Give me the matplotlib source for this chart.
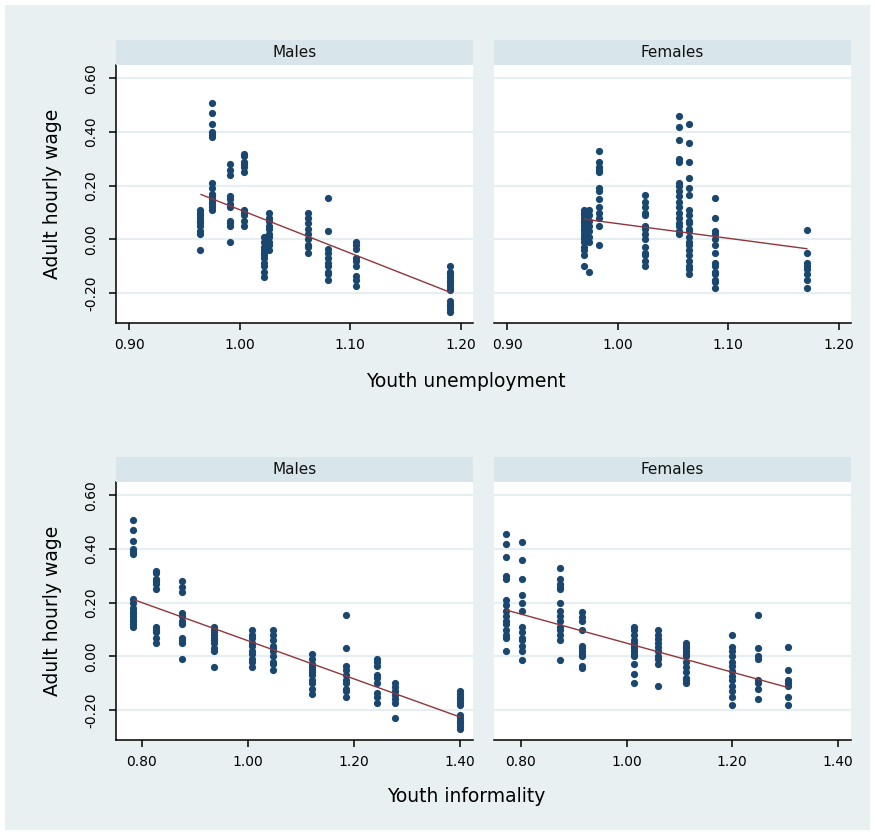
import numpy as np
import matplotlib.pyplot as plt
from matplotlib.patches import Rectangle

# adult hourly wage (y) against youth labour indicators, one column of points per x value

# Males, youth unemployment
m_unemp_x = [0.964, 0.975, 0.991, 1.004, 1.022, 1.026, 1.062, 1.080, 1.105, 1.190]
m_unemp_y = [
    [0.11, 0.10, 0.09, 0.08, 0.07, 0.06, 0.05, 0.03, 0.02, -0.04],
    [0.51, 0.47, 0.43, 0.40, 0.39, 0.38, 0.21, 0.19, 0.17, 0.16, 0.15, 0.14, 0.13, 0.12, 0.11],
    [0.28, 0.26, 0.24, 0.16, 0.15, 0.13, 0.12, 0.07, 0.06, 0.05, -0.01],
    [0.32, 0.31, 0.29, 0.28, 0.27, 0.25, 0.11, 0.10, 0.09, 0.07, 0.05],
    [0.01, -0.01, -0.03, -0.04, -0.05, -0.06, -0.07, -0.09, -0.10, -0.12, -0.14],
    [0.10, 0.08, 0.07, 0.05, 0.04, 0.02, 0.01, -0.01, -0.02, -0.04],
    [0.10, 0.08, 0.06, 0.04, 0.02, 0.00, -0.02, -0.03, -0.05],
    [0.155, 0.03, -0.035, -0.05, -0.07, -0.09, -0.10, -0.12, -0.13, -0.15],
    [-0.01, -0.02, -0.035, -0.07, -0.08, -0.10, -0.135, -0.15, -0.175],
    [-0.10, -0.12, -0.13, -0.14, -0.15, -0.16, -0.17, -0.18, -0.19, -0.23, -0.24, -0.25, -0.26, -0.27],
]
m_unemp_fit_x = [0.965, 1.19]
m_unemp_fit_y = [0.167, -0.197]

# Females, youth unemployment
f_unemp_x = [0.969, 0.974, 0.983, 1.025, 1.055, 1.064, 1.088, 1.171]
f_unemp_y = [
    [0.11, 0.10, 0.09, 0.08, 0.07, 0.06, 0.05, 0.04, 0.03, 0.02, 0.01, 0.00, -0.01, -0.03, -0.04, -0.06, -0.10],
    [0.11, 0.09, 0.07, 0.05, 0.03, 0.01, -0.01, -0.12],
    [0.33, 0.29, 0.27, 0.26, 0.25, 0.19, 0.18, 0.15, 0.12, 0.10, 0.08, 0.05, -0.02],
    [0.165, 0.14, 0.12, 0.10, 0.09, 0.05, 0.04, 0.02, 0.00, -0.03, -0.05, -0.06, -0.08, -0.10],
    [0.46, 0.42, 0.37, 0.30, 0.29, 0.21, 0.20, 0.18, 0.16, 0.14, 0.12, 0.10, 0.08, 0.06, 0.05, 0.03, 0.02],
    [0.43, 0.36, 0.29, 0.23, 0.19, 0.165, 0.11, 0.09, 0.07, 0.06, 0.04, 0.03, 0.01, -0.01, -0.02,
     -0.04, -0.06, -0.08, -0.10, -0.11, -0.13],
    [0.155, 0.08, 0.03, 0.02, 0.00, -0.02, -0.05, -0.09, -0.10, -0.12, -0.13, -0.15, -0.16, -0.18],
    [0.035, -0.05, -0.09, -0.10, -0.11, -0.13, -0.15, -0.18],
]
f_unemp_fit_x = [0.970, 1.171]
f_unemp_fit_y = [0.075, -0.035]

# Males, youth informality
m_inf_x = [0.784, 0.827, 0.875, 0.936, 1.008, 1.048, 1.121, 1.186, 1.243, 1.277, 1.400]
m_inf_y = [
    [0.51, 0.47, 0.43, 0.40, 0.39, 0.38, 0.215, 0.20, 0.18, 0.17, 0.16, 0.15, 0.14, 0.13, 0.12, 0.11],
    [0.32, 0.31, 0.29, 0.28, 0.27, 0.25, 0.11, 0.10, 0.09, 0.07, 0.05],
    [0.28, 0.26, 0.24, 0.16, 0.15, 0.13, 0.12, 0.07, 0.06, 0.05, -0.01],
    [0.11, 0.10, 0.09, 0.08, 0.07, 0.06, 0.05, 0.03, 0.02, -0.04],
    [0.10, 0.08, 0.07, 0.05, 0.04, 0.02, 0.01, -0.01, -0.02, -0.04],
    [0.10, 0.08, 0.06, 0.04, 0.03, 0.02, 0.00, -0.02, -0.03, -0.05],
    [0.01, -0.01, -0.03, -0.04, -0.05, -0.06, -0.07, -0.09, -0.10, -0.12, -0.14],
    [0.155, 0.03, -0.035, -0.05, -0.07, -0.09, -0.10, -0.12, -0.13, -0.15],
    [-0.01, -0.02, -0.035, -0.07, -0.08, -0.10, -0.135, -0.15, -0.175],
    [-0.10, -0.115, -0.13, -0.145, -0.16, -0.175, -0.23],
    [-0.13, -0.14, -0.15, -0.16, -0.17, -0.18, -0.22, -0.23, -0.24, -0.25, -0.26, -0.27],
]
m_inf_fit_x = [0.785, 1.40]
m_inf_fit_y = [0.211, -0.226]

# Females, youth informality
f_inf_x = [0.772, 0.802, 0.874, 0.916, 1.014, 1.059, 1.112, 1.200, 1.248, 1.305]
f_inf_y = [
    [0.455, 0.42, 0.37, 0.30, 0.29, 0.21, 0.19, 0.17, 0.15, 0.13, 0.12, 0.10, 0.08, 0.07, 0.02],
    [0.425, 0.36, 0.29, 0.23, 0.20, 0.17, 0.11, 0.09, 0.07, 0.06, 0.04, 0.02, -0.015],
    [0.33, 0.29, 0.27, 0.26, 0.25, 0.20, 0.17, 0.15, 0.13, 0.11, 0.10, 0.08, 0.06, -0.015],
    [0.165, 0.145, 0.13, 0.10, 0.04, 0.03, 0.02, 0.01, 0.00, -0.035, -0.045],
    [0.11, 0.10, 0.08, 0.06, 0.05, 0.04, 0.03, 0.02, 0.01, 0.00, -0.03, -0.065, -0.10],
    [0.10, 0.08, 0.065, 0.05, 0.035, 0.02, 0.00, -0.01, -0.03, -0.11],
    [0.05, 0.04, 0.03, 0.02, 0.01, 0.00, -0.02, -0.04, -0.06, -0.08, -0.09, -0.10],
    [0.08, 0.035, 0.02, 0.00, -0.02, -0.035, -0.055, -0.075, -0.09, -0.11, -0.13, -0.15, -0.18],
    [0.155, 0.03, 0.00, -0.01, -0.09, -0.10, -0.12, -0.16],
    [0.035, -0.05, -0.09, -0.10, -0.11, -0.15, -0.18],
]
f_inf_fit_x = [0.773, 1.307]
f_inf_fit_y = [0.172, -0.117]

y_ticks = [-0.2, 0.0, 0.2, 0.4, 0.6]
unemp_ticks = [0.9, 1.0, 1.1, 1.2]
inf_ticks = [0.8, 1.0, 1.2, 1.4]

BG = '#e8f0f2'
STRIP = '#d8e5ea'
GRID = '#e6eef1'
NAVY = '#1a476f'
MAROON = '#90353b'

W, H = 875, 835
fig = plt.figure(figsize=(W / 100, H / 100), dpi=100, facecolor='white')
fig.patches.append(Rectangle((5 / W, 5 / H), 865 / W, 825 / H, transform=fig.transFigure,
                             facecolor=BG, edgecolor='none', zorder=-10))


def panel(left, top, xs, ys, fit_x, fit_y, xticks, xlim, title, first):
    ax = fig.add_axes([left / W, 1 - (top + 258) / H, 357 / W, 258 / H])
    strip = fig.add_axes([left / W, 1 - top / H, 357 / W, 25 / H])
    strip.set_facecolor(STRIP)
    strip.set_xticks([])
    strip.set_yticks([])
    for s in strip.spines.values():
        s.set_visible(False)
    strip.text(0.5, 0.5, title, ha='center', va='center', fontsize=11, color='#111111',
               transform=strip.transAxes)

    for yv in y_ticks:
        ax.axhline(yv, color=GRID, lw=1.6, zorder=1)
    for x, col in zip(xs, ys):
        ax.plot([x] * len(col), col, 'o', color=NAVY, ms=5.2, mew=0, zorder=3)
    ax.plot(fit_x, fit_y, color=MAROON, lw=1.0, zorder=4)

    ax.set_xlim(*xlim)
    ax.set_ylim(-0.312, 0.65)
    ax.set_xticks(xticks)
    ax.set_xticklabels([f'{t:.2f}' for t in xticks], fontsize=10)
    ax.set_yticks(y_ticks)
    ax.spines['top'].set_visible(False)
    ax.spines['right'].set_visible(False)
    ax.spines['bottom'].set_linewidth(1.1)
    ax.tick_params(axis='x', length=5, width=1.1, pad=6)
    if first:
        ax.spines['left'].set_linewidth(1.1)
        ax.set_yticklabels([f'{t:.2f}' for t in y_ticks], fontsize=10, rotation=90, va='center')
        ax.tick_params(axis='y', length=5, width=1.1, pad=8)
    else:
        ax.spines['left'].set_visible(False)
        ax.tick_params(axis='y', length=0, labelleft=False)
    return ax


panel(116, 65, m_unemp_x, m_unemp_y, m_unemp_fit_x, m_unemp_fit_y,
      unemp_ticks, (0.888, 1.211), 'Males', True)
panel(494, 65, f_unemp_x, f_unemp_y, f_unemp_fit_x, f_unemp_fit_y,
      unemp_ticks, (0.888, 1.211), 'Females', False)
panel(116, 482, m_inf_x, m_inf_y, m_inf_fit_x, m_inf_fit_y,
      inf_ticks, (0.751, 1.425), 'Males', True)
panel(494, 482, f_inf_x, f_inf_y, f_inf_fit_x, f_inf_fit_y,
      inf_ticks, (0.749, 1.425), 'Females', False)

fig.text(53 / W, 1 - 194 / H, 'Adult hourly wage', rotation=90, ha='center', va='center', fontsize=13.5)
fig.text(53 / W, 1 - 611 / H, 'Adult hourly wage', rotation=90, ha='center', va='center', fontsize=13.5)
fig.text(466 / W, 1 - 381 / H, 'Youth unemployment', ha='center', va='center', fontsize=13.5)
fig.text(466 / W, 1 - 797 / H, 'Youth informality', ha='center', va='center', fontsize=13.5)

fig.savefig('out.png', dpi=100, facecolor=fig.get_facecolor())
